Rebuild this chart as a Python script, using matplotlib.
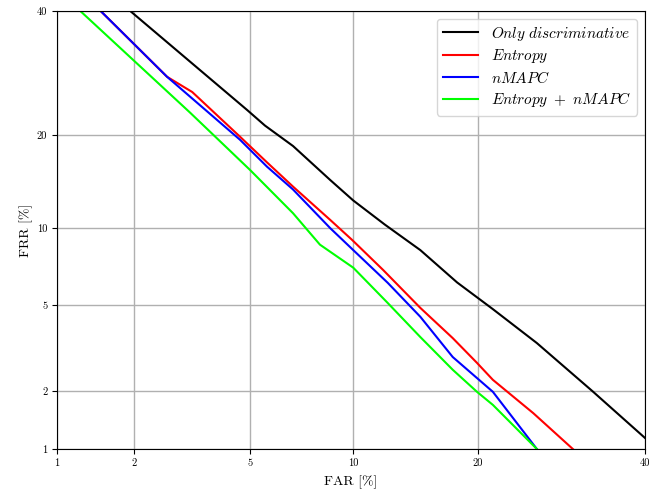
import math
import numpy as np
import matplotlib
matplotlib.use("Agg")
import matplotlib.pyplot as plt

plt.rcParams['font.family'] = 'serif'
plt.rcParams['font.serif'] = ['cmr10']
plt.rcParams['mathtext.fontset'] = 'cm'
plt.rcParams['axes.formatter.use_mathtext'] = True

# values in percent
far_disc = [1.93, 4.89, 5.56, 6.76, 8.65, 10.0, 12.1, 14.8, 18.0, 21.5, 26.3, 33.1, 40.0]
frr_disc = [40.0, 23.5, 21.3, 18.6, 14.6, 12.5, 10.3, 8.3, 6.2, 4.8, 3.4, 2.0, 1.15]

far_ent = [1.49, 2.63, 3.22, 4.64, 5.64, 6.76, 8.65, 9.93, 11.98, 14.8, 17.6, 19.9, 21.5, 25.9, 30.6]
frr_ent = [40.0, 28.6, 26.2, 19.8, 16.6, 13.9, 10.7, 9.06, 6.95, 4.86, 3.58, 2.75, 2.28, 1.55, 1.0]

far_nmapc = [1.49, 2.63, 4.64, 5.64, 6.76, 8.65, 10.0, 12.3, 14.8, 17.6, 21.5, 26.3]
frr_nmapc = [40.0, 28.6, 19.4, 16.1, 13.6, 10.0, 8.3, 6.18, 4.45, 2.93, 1.99, 1.0]

far_both = [1.24, 3.17, 5.0, 6.76, 8.09, 10.0, 12.3, 14.8, 17.6, 19.9, 21.5, 26.3]
frr_both = [40.0, 23.1, 15.7, 11.3, 8.7, 7.1, 5.1, 3.62, 2.55, 1.99, 1.71, 1.0]

ticks = [1, 2, 5, 10, 20, 40]


def ppf(p):
    # Acklam's approximation of the normal quantile function
    p = np.clip(np.asarray(p, dtype=float), 1e-9, 1 - 1e-9)
    a = [-3.969683028665376e+01, 2.209460984245205e+02, -2.759285104469687e+02,
         1.383577518672690e+02, -3.066479806614716e+01, 2.506628277459239e+00]
    b = [-5.447609879822406e+01, 1.615858368580409e+02, -1.556989798598866e+02,
         6.680131188771972e+01, -1.328068155288572e+01]
    c = [-7.784894002430293e-03, -3.223964580411365e-01, -2.400758277161838e+00,
         -2.549671010315583e+00, 4.374664141464968e+00, 2.938163982698783e+00]
    d = [7.784695709041462e-03, 3.224671290700398e-01, 2.445134137142996e+00,
         3.754408661907416e+00]
    plow = 0.02425
    out = np.empty_like(p)
    lo = p < plow
    hi = p > 1 - plow
    mid = ~(lo | hi)
    q = np.sqrt(-2 * np.log(p[lo]))
    out[lo] = (((((c[0]*q+c[1])*q+c[2])*q+c[3])*q+c[4])*q+c[5]) / ((((d[0]*q+d[1])*q+d[2])*q+d[3])*q+1)
    q = np.sqrt(-2 * np.log(1 - p[hi]))
    out[hi] = -(((((c[0]*q+c[1])*q+c[2])*q+c[3])*q+c[4])*q+c[5]) / ((((d[0]*q+d[1])*q+d[2])*q+d[3])*q+1)
    q = p[mid] - 0.5
    r = q * q
    out[mid] = (((((a[0]*r+a[1])*r+a[2])*r+a[3])*r+a[4])*r+a[5])*q / (((((b[0]*r+b[1])*r+b[2])*r+b[3])*r+b[4])*r+1)
    return out


_erf = np.vectorize(math.erf)


def forward(x):
    return ppf(np.asarray(x, dtype=float) / 100.0)


def inverse(z):
    return 100.0 * 0.5 * (1 + _erf(np.asarray(z, dtype=float) / math.sqrt(2)))


fig = plt.figure(figsize=(6.5, 4.96), dpi=100)
ax = fig.add_axes([0.0877, 0.0948, 0.9043, 0.8832])
ax.set_xscale('function', functions=(forward, inverse))
ax.set_yscale('function', functions=(forward, inverse))

ax.plot(far_disc, frr_disc, color='black', lw=1.5, label=r'$Only\ discriminative$')
ax.plot(far_ent, frr_ent, color='red', lw=1.5, label=r'$Entropy$')
ax.plot(far_nmapc, frr_nmapc, color='blue', lw=1.5, label=r'$nMAPC$')
ax.plot(far_both, frr_both, color='lime', lw=1.5, label=r'$Entropy\ +\ nMAPC$')

ax.set_xlim(1, 40)
ax.set_ylim(1, 40)
ax.set_xticks(ticks)
ax.set_xticklabels([str(t) for t in ticks])
ax.set_yticks(ticks)
ax.set_yticklabels([str(t) for t in ticks])
ax.minorticks_off()
ax.tick_params(labelsize=7.5, length=3.5)
ax.grid(True, color='#b0b0b0', lw=1)

ax.set_xlabel('FAR [%]', fontsize=10, labelpad=5)
ax.set_ylabel('FRR [%]', fontsize=10, labelpad=3)
ax.legend(loc='upper right', fontsize=11, handlelength=2.3, labelspacing=0.3)

fig.savefig('out.png', dpi=100)
